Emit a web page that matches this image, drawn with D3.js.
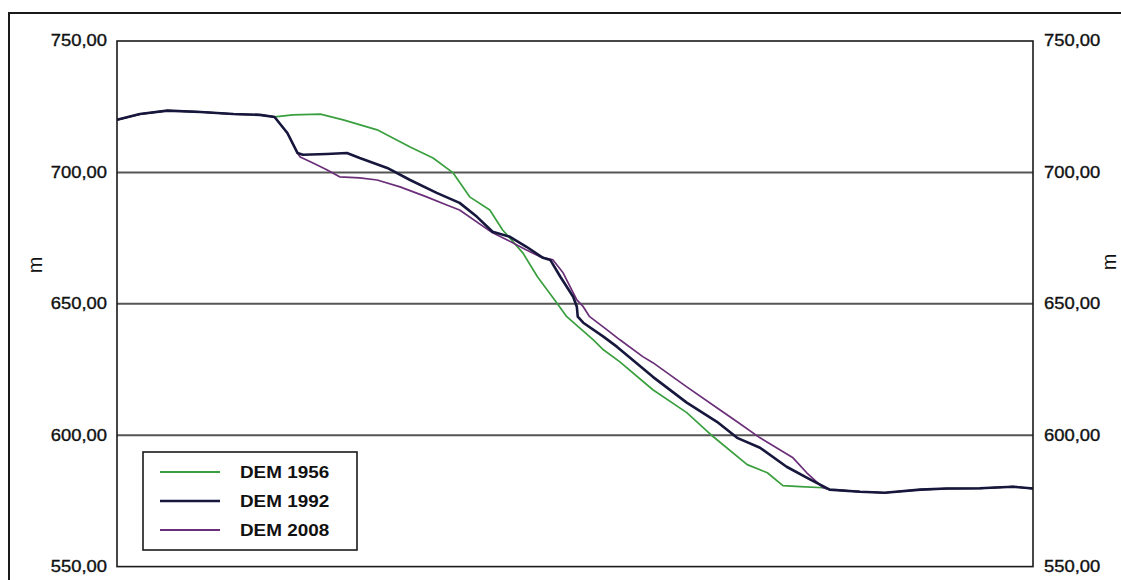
<!DOCTYPE html>
<html><head><meta charset="utf-8">
<script src="https://cdn.jsdelivr.net/npm/d3@7"></script>
<style>
html,body{margin:0;padding:0;background:#fff;}
svg{display:block;}
text{font-family:"Liberation Sans",Arial,sans-serif;fill:#111;}
</style></head>
<body>
<svg id="chart" width="1121" height="580"></svg>
<script>
// ---- data (distance along profile in m, elevation in m) ----
const yTicks = [550, 600, 650, 700, 750];
const yTickLabels = ["550,00", "600,00", "650,00", "700,00", "750,00"];
const seriesNames = ["DEM 1956", "DEM 1992", "DEM 2008"];

// shared upper segment (all three surveys identical)
const startDist = [0, 25, 55, 91, 127, 156, 172];
const startElev = [720.0, 722.2, 723.5, 723.0, 722.2, 721.9, 721.1];
// shared lower segment
const endDist = [778, 811, 838, 877, 906, 942, 978, 1000];
const endElev = [579.3, 578.5, 578.1, 579.3, 579.7, 579.8, 580.4, 579.7];

const dist1956 = [192, 222, 247, 284, 320, 345, 367, 385, 407, 421, 443, 459, 480, 491, 520, 531, 549, 585, 622, 651, 688, 710, 727, 746, 771];
const elev1956 = [721.9, 722.2, 720.0, 716.2, 709.7, 705.5, 699.8, 690.7, 685.7, 678.1, 669.4, 660.3, 650.4, 645.1, 636.3, 632.5, 627.9, 617.3, 608.6, 599.4, 588.8, 585.7, 580.8, 580.4, 580.0];

const dist1992 = [186, 197, 203, 229, 251, 265, 295, 320, 349, 374, 393, 410, 429, 447, 465, 473, 484, 498, 502, 503, 509, 531, 546, 585, 622, 655, 677, 702, 731, 757, 776];
const elev1992 = [715.0, 707.4, 706.7, 707.0, 707.4, 705.5, 701.7, 697.1, 692.2, 688.4, 683.1, 677.4, 675.5, 671.7, 667.5, 666.7, 660.3, 652.7, 648.9, 645.1, 642.8, 637.5, 633.6, 622.2, 612.4, 605.1, 599.0, 595.2, 588.0, 583.1, 579.7];

const dist2008 = [186, 197, 200, 214, 229, 243, 265, 284, 309, 338, 360, 374, 410, 426, 447, 462, 476, 487, 502, 509, 516, 535, 549, 574, 585, 622, 658, 677, 702, 738, 753, 771];
const elev2008 = [715.0, 707.4, 705.9, 703.6, 701.0, 698.3, 697.9, 697.1, 694.5, 690.7, 687.6, 685.7, 677.0, 674.3, 670.5, 667.9, 666.7, 661.8, 651.5, 648.9, 645.1, 640.1, 636.3, 629.9, 627.6, 618.4, 609.7, 605.1, 599.0, 591.4, 585.7, 580.0];

const colors = {"DEM 1956": "#3a9f3e", "DEM 1992": "#17173d", "DEM 2008": "#6a2f78"};
const widths = {"DEM 1956": 1.7, "DEM 1992": 2.6, "DEM 2008": 1.7};

function build(d, e) {
  const pts = [];
  startDist.forEach((x, i) => pts.push([x, startElev[i]]));
  d.forEach((x, i) => pts.push([x, e[i]]));
  endDist.forEach((x, i) => pts.push([x, endElev[i]]));
  return pts;
}
const series = {
  "DEM 1956": build(dist1956, elev1956),
  "DEM 1992": build(dist1992, elev1992),
  "DEM 2008": build(dist2008, elev2008)
};

// ---- layout ----
const svg = d3.select("#chart");
const L = 117, R = 1033, T = 41, B = 566.6;
const x = d3.scaleLinear().domain([0, 1000]).range([L, R]);
const y = d3.scaleLinear().domain([550, 750]).range([B, T]);

// outer frame
svg.append("rect").attr("x", 9).attr("y", 13).attr("width", 1130).attr("height", 600)
  .attr("fill", "#fff").attr("stroke", "#1a1a1a").attr("stroke-width", 2);

// gridlines
svg.append("g").selectAll("line").data(yTicks.filter(v => v > 550 && v < 750)).join("line")
  .attr("x1", L).attr("x2", R).attr("y1", d => y(d)).attr("y2", d => y(d))
  .attr("stroke", "#555").attr("stroke-width", 2);

// axes (labels only)
const leftAxis = d3.axisLeft(y).tickValues(yTicks).tickFormat((d, i) => yTickLabels[i]).tickSize(0).tickPadding(10);
const rightAxis = d3.axisRight(y).tickValues(yTicks).tickFormat((d, i) => yTickLabels[i]).tickSize(0).tickPadding(11);
const gl = svg.append("g").attr("transform", `translate(${L},0)`).call(leftAxis);
const gr = svg.append("g").attr("transform", `translate(${R},0)`).call(rightAxis);
[gl, gr].forEach(g => {
  g.select(".domain").remove();
  g.selectAll("text").attr("font-size", 16).attr("font-family", "Liberation Sans, Arial, sans-serif")
    .attr("fill", "#111").attr("stroke", "#111").attr("stroke-width", 0.35).attr("dy", "0.3em");
});
gl.selectAll(".tick text").attr("transform", "scale(1.15,1)").attr("x", -10 / 1.15).attr("text-anchor", "end");
gr.selectAll(".tick text").attr("transform", "scale(1.15,1)").attr("x", 11 / 1.15);

// unit labels
svg.append("text").attr("transform", "translate(42,265) rotate(-90)").attr("text-anchor", "middle")
  .attr("font-size", 20).text("m");
svg.append("text").attr("transform", "translate(1116,262) rotate(-90)").attr("text-anchor", "middle")
  .attr("font-size", 20).text("m");

// lines
const line = d3.line().x(d => x(d[0])).y(d => y(d[1])).curve(d3.curveLinear);
["DEM 1956", "DEM 2008", "DEM 1992"].forEach(n => {
  svg.append("path").datum(series[n]).attr("d", line).attr("fill", "none")
    .attr("stroke", colors[n]).attr("stroke-width", widths[n]).attr("stroke-linejoin", "round");
});

// plot frame
svg.append("rect").attr("x", L).attr("y", T).attr("width", R - L).attr("height", B - T)
  .attr("fill", "none").attr("stroke", "#1a1a1a").attr("stroke-width", 1.6);

// legend
const lg = svg.append("g");
lg.append("rect").attr("x", 143).attr("y", 452).attr("width", 214).attr("height", 98)
  .attr("fill", "#fff").attr("stroke", "#1a1a1a").attr("stroke-width", 1.6);
const legendY = d3.scalePoint().domain(seriesNames).range([472, 530]);
seriesNames.forEach(n => {
  lg.append("line").attr("x1", 160).attr("x2", 220).attr("y1", legendY(n)).attr("y2", legendY(n))
    .attr("stroke", colors[n]).attr("stroke-width", n === "DEM 1992" ? 2.6 : 2);
  lg.append("text").attr("transform", `translate(240,${legendY(n)}) scale(1.18,1)`).attr("dy", "0.36em")
    .attr("font-size", 16).attr("font-weight", "bold").text(n);
});
</script>
</body></html>
